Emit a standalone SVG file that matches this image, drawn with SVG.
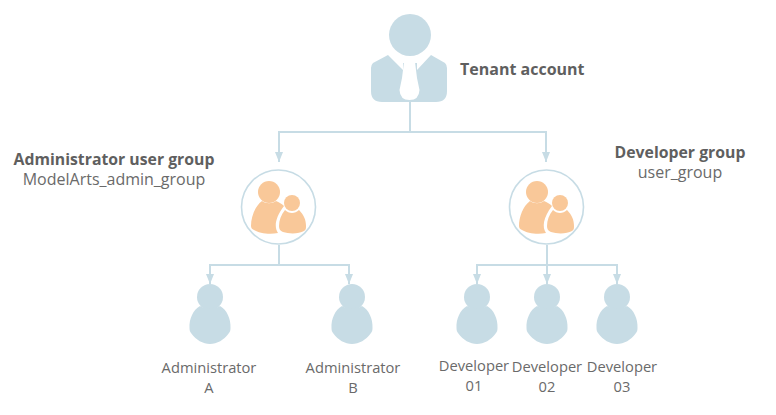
<svg xmlns="http://www.w3.org/2000/svg" width="776" height="415" viewBox="0 0 776 415">
<style>
text{font-family:"Open Sans","Noto Sans","Liberation Sans",sans-serif;fill:#6a6a6a;font-size:14.7px}
.b{font-weight:700;font-size:15.8px;fill:#5f5f5f}
.r{font-size:16px}
.c{text-anchor:middle}
.line{fill:none;stroke:#c7dce5;stroke-width:2}
.ring{fill:#fff;stroke:#c7dce5;stroke-width:1.6}
.p{fill:#c7dce5}
.o{fill:#f9c899}
</style>
<defs>
<marker id="a" markerWidth="5" markerHeight="4" refX="5" refY="2" orient="auto" markerUnits="strokeWidth"><path d="M0 0L5 2L0 4Z" fill="#c7dce5"/></marker>
<g id="person"><circle cx="0" cy="0" r="13" class="p"/><path class="p" d="M-10 9C-17 13-21 22-20.500 31C-20.500 33-20 35-19 36C-14 43-7 47 0 47C7 47 14 43 19 36C20 35 20.500 33 20.500 31C21 22 17 13 10 9C6 12-6 12-10 9Z"/></g>
<g id="group"><circle cx="-0.500" cy="0" r="37" class="ring"/>
<circle cx="-10" cy="-15" r="11" class="o"/>
<path class="o" d="M-17-6C-24-1-28 10-28 19C-28 21-27 22-25 23C-20 26-10 28-1 26C-5 20-4 11 5-1C3-3 0-5-3-6C-7-3-13-3-17-6Z"/>
<circle cx="13" cy="-4" r="8" class="o"/>
<path class="o" d="M6 3C2 8 0 13 0 19C0 22 1 24 4 25C10 27 20 27 25 24C27 23 27 21 27 19C27 13 25 8 20 3C16 7 10 7 6 3Z"/></g>
</defs>
<g id="connectors">
<path class="line" d="M410 102V132"/>
<path class="line" marker-end="url(#a)" d="M410 132H279V162"/>
<path class="line" marker-end="url(#a)" d="M410 132H546V162"/>
<path class="line" d="M279 245V265"/>
<path class="line" marker-end="url(#a)" d="M279 265H210V284"/>
<path class="line" marker-end="url(#a)" d="M279 265H349V284"/>
<path class="line" marker-end="url(#a)" d="M547 245V284"/>
<path class="line" marker-end="url(#a)" d="M547 265H477V284"/>
<path class="line" marker-end="url(#a)" d="M547 265H617V284"/>
</g>
<g id="tenant">
<circle cx="410" cy="35" r="21" class="p"/>
<path class="p" d="M388 55L373 63Q371 65 371 68V91Q371 102 382 102H436Q447 102 447 91V68Q447 65 445 63L431 55L417 70V63H403V70Z"/>
<path d="M404 62H415L417 78L419.500 90Q419 100 409.500 100Q400 100 399.500 90L402 78Z" fill="#fff"/>
<text class="b" x="460" y="75" style="font-size:16px">Tenant account</text>
</g>
<g id="admin-group"><use href="#group" x="279" y="207"/>
<text class="b c" x="114" y="165">Administrator user group</text>
<text class="c r" x="114" y="185">ModelArts_admin_group</text></g>
<g id="dev-group"><use href="#group" x="547" y="207"/>
<text class="b c" x="680" y="158">Developer group</text>
<text class="c r" x="680" y="178">user_group</text></g>
<g id="admin-a"><use href="#person" x="210" y="297"/><text class="c" x="209" y="373">Administrator</text><text class="c" x="209" y="393">A</text></g>
<g id="admin-b"><use href="#person" x="352" y="297"/><text class="c" x="353" y="373">Administrator</text><text class="c" x="353" y="393">B</text></g>
<g id="dev-01"><use href="#person" x="477" y="297"/><text class="c" x="474" y="371">Developer</text><text class="c" x="474" y="391">01</text></g>
<g id="dev-02"><use href="#person" x="547" y="297"/><text class="c" x="547" y="372">Developer</text><text class="c" x="547" y="392">02</text></g>
<g id="dev-03"><use href="#person" x="617" y="297"/><text class="c" x="622" y="372">Developer</text><text class="c" x="622" y="392">03</text></g>
</svg>
